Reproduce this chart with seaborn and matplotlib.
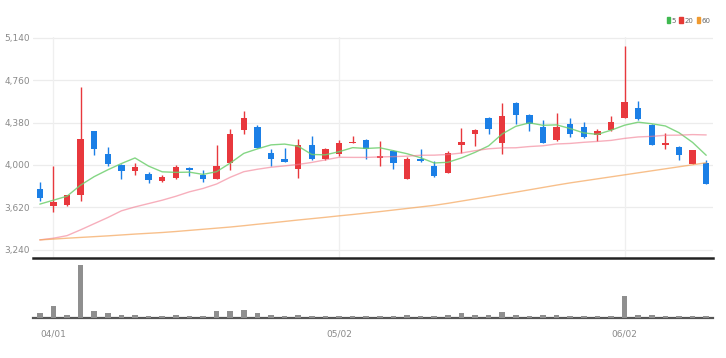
import numpy as np
import pandas as pd
import seaborn as sns
import matplotlib
matplotlib.use("Agg")
import matplotlib.pyplot as plt
from matplotlib.patches import Patch

# candle data, one entry per trading day
opens = [3786, 3637, 3643, 3730, 4300, 4101, 4003, 3943, 3920, 3854,
         3887, 3976, 3908, 3878, 4021, 4314, 4341, 4111, 4051, 3961,
         4177, 4051, 4096, 4195, 4225, 4063, 4126, 3878, 4051, 3991,
         3931, 4180, 4275, 4419, 4201, 4553, 4446, 4341, 4222, 4365,
         4341, 4272, 4311, 4422, 4512, 4362, 4183, 4162, 4012, 4021]
closes = [3706, 3670, 3730, 4234, 4142, 4009, 3949, 3979, 3869, 3890,
          3985, 3958, 3878, 3991, 4275, 4419, 4156, 4057, 4030, 4177,
          4051, 4141, 4195, 4210, 4141, 4081, 4015, 4057, 4033, 3902,
          4111, 4210, 4311, 4320, 4440, 4449, 4365, 4201, 4341, 4275,
          4251, 4302, 4386, 4566, 4410, 4183, 4200, 4087, 4132, 3833]
highs = [3845, 3988, 3735, 4701, 4306, 4160, 4009, 4018, 3934, 3914,
         3999, 3982, 3952, 4180, 4320, 4485, 4356, 4141, 4156, 4236,
         4261, 4156, 4224, 4261, 4234, 4216, 4135, 4075, 4147, 4036,
         4123, 4335, 4326, 4425, 4553, 4565, 4455, 4404, 4461, 4416,
         4386, 4326, 4440, 5068, 4571, 4371, 4290, 4171, 4138, 4042]
lows = [3676, 3578, 3630, 3682, 4092, 3988, 3875, 3908, 3840, 3848,
        3878, 3902, 3851, 3872, 3955, 4275, 4150, 3991, 4030, 3887,
        4045, 4045, 4081, 4195, 4057, 3991, 3961, 3872, 4027, 3896,
        3925, 4111, 4171, 4275, 4096, 4371, 4305, 4195, 4216, 4251,
        4242, 4212, 4305, 4416, 4401, 4177, 4141, 4042, 4006, 3827]
volumes = [86, 230, 50, 1000, 136, 90, 60, 55, 32, 32,
           50, 32, 32, 136, 136, 154, 86, 55, 32, 60,
           32, 32, 30, 32, 32, 32, 32, 55, 32, 32,
           60, 86, 55, 60, 117, 55, 32, 55, 60, 32,
           32, 32, 32, 410, 60, 55, 32, 32, 32, 45]

ma5 = [3650, 3685, 3721, 3820, 3896, 3957, 4013, 4063, 3990, 3939,
       3934, 3936, 3916, 3940, 4017, 4104, 4144, 4180, 4187, 4168,
       4094, 4091, 4119, 4155, 4148, 4154, 4128, 4101, 4065, 4018,
       4024, 4063, 4113, 4171, 4278, 4346, 4377, 4355, 4359, 4326,
       4287, 4274, 4311, 4356, 4383, 4369, 4349, 4289, 4202, 4087]
ma20 = [3330, 3345, 3368, 3420, 3475, 3530, 3590, 3625, 3655, 3685,
        3720, 3760, 3790, 3830, 3890, 3940, 3962, 3980, 3992, 4005,
        4023, 4046, 4069, 4068, 4068, 4072, 4075, 4079, 4087, 4088,
        4094, 4107, 4128, 4145, 4153, 4154, 4165, 4172, 4188, 4193,
        4203, 4211, 4220, 4238, 4251, 4256, 4266, 4267, 4272, 4269]
ma60 = [3330, 3337, 3345, 3352, 3359, 3366, 3374, 3382, 3389, 3396,
        3405, 3415, 3425, 3435, 3445, 3457, 3470, 3482, 3495, 3508,
        3520, 3532, 3545, 3557, 3570, 3583, 3597, 3611, 3625, 3639,
        3657, 3677, 3697, 3717, 3737, 3757, 3778, 3799, 3820, 3840,
        3858, 3876, 3894, 3912, 3930, 3948, 3966, 3984, 4002, 4020]

tick_idx = [1, 22, 43]
tick_labels = ["04/01", "05/02", "06/02"]
price_ticks = [3240, 3620, 4000, 4380, 4760, 5140]

df = pd.DataFrame({"i": np.arange(len(closes)), "open": opens, "close": closes,
                   "high": highs, "low": lows, "vol": volumes,
                   "MA5": ma5, "MA20": ma20, "MA60": ma60})

sns.set_style("white")
plt.rcParams["font.family"] = ["Liberation Sans Narrow", "DejaVu Sans"]

UP, DOWN = "#e8383d", "#1b7fe6"
LBL = "#8a8a8a"

fig = plt.figure(figsize=(7.26, 3.58), dpi=100)
ax = fig.add_axes([33 / 726, 1 - 258 / 358, 680 / 726, 221 / 358])
axv = fig.add_axes([33 / 726, 1 - 318 / 358, 680 / 726, 56 / 358])

# grid
for p in price_ticks:
    ax.axhline(p, color="#ececec", lw=0.9, zorder=0)
for t in tick_idx:
    ax.axvline(t, color="#efefef", lw=0.9, zorder=0)

# candles
cols = [UP if c >= o else DOWN for o, c in zip(df["open"], df["close"])]
ax.vlines(df["i"], df["low"], df["high"], colors=cols, lw=1.0, zorder=2)
ax.bar(df["i"], df["close"] - df["open"], bottom=df["open"], width=0.48,
       color=cols, zorder=3, linewidth=0)

# moving averages
sns.lineplot(data=df, x="i", y="MA5", ax=ax, color="#6fcf6f", lw=1.0, alpha=0.85, zorder=4)
sns.lineplot(data=df, x="i", y="MA20", ax=ax, color="#f27a90", lw=1.0, alpha=0.6, zorder=4)
sns.lineplot(data=df, x="i", y="MA60", ax=ax, color="#f5a55a", lw=1.0, alpha=0.7, zorder=4)

ax.set_xlim(-0.5, 49.5)
ax.set_ylim(3168, 5145)
ax.set_yticks(price_ticks)
ax.set_yticklabels([f"{p:,}" for p in price_ticks])
ax.set_xticks([])
ax.set_xlabel("")
ax.set_ylabel("")
ax.tick_params(axis="y", length=0, pad=2, labelsize=6.5, labelcolor=LBL)
for s in ["top", "right", "left"]:
    ax.spines[s].set_visible(False)
ax.spines["bottom"].set_color("#222222")
ax.spines["bottom"].set_linewidth(1.8)

# volume
axv.bar(df["i"], df["vol"], width=0.4, color="#8f8f8f", zorder=3, linewidth=0)
axv.set_xlim(-0.5, 49.5)
axv.set_ylim(0, 1057)
axv.set_yticks([])
axv.set_xticks(tick_idx)
axv.set_xticklabels(tick_labels)
axv.tick_params(axis="x", length=3.5, width=0.8, color="#444444", pad=5,
                labelsize=6.5, labelcolor=LBL)
for s in ["top", "right", "left"]:
    axv.spines[s].set_visible(False)
axv.spines["bottom"].set_color("#555555")
axv.spines["bottom"].set_linewidth(1.6)
axv.spines["bottom"].set_zorder(2)

# legend
handles = [Patch(color="#3fb950", label="5"), Patch(color="#e53935", label="20"),
           Patch(color="#f09a30", label="60")]
fig.legend(handles=handles, loc="upper right", bbox_to_anchor=(714 / 726, 1 - 14 / 358),
           ncol=3, frameon=False, fontsize=5, handlelength=0.5, handleheight=0.9,
           handletextpad=0.2, columnspacing=0.5, borderpad=0, labelcolor="#666666")

fig.savefig("out.png", dpi=100)
